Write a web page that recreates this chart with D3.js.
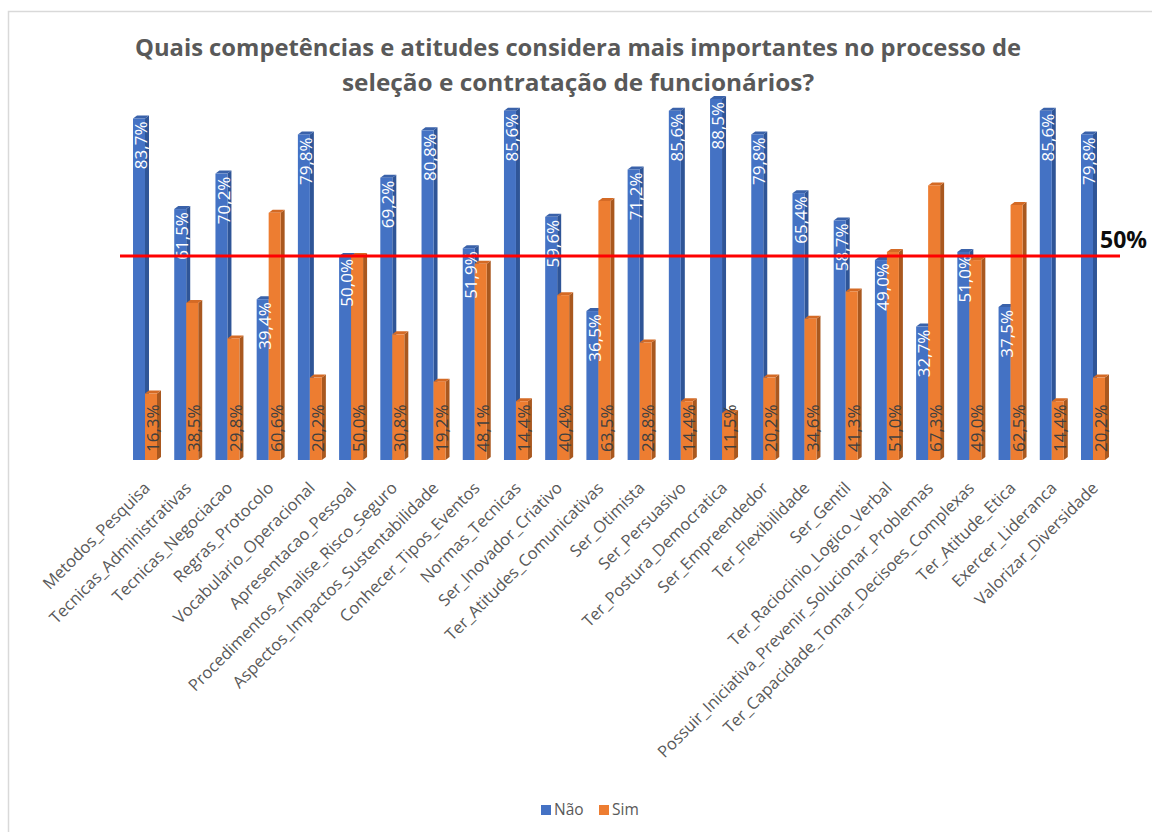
<!DOCTYPE html>
<html>
<head>
<meta charset="utf-8">
<script src="https://cdn.jsdelivr.net/npm/d3@7"></script>
<style>
  body { margin: 0; background: #ffffff; }
  svg { display: block; }
</style>
</head>
<body>
<svg id="chart" width="1152" height="832"></svg>
<script>
// Competências avaliadas
const categories = [
  "Metodos_Pesquisa", "Tecnicas_Administrativas", "Tecnicas_Negociacao", "Regras_Protocolo",
  "Vocabulario_Operacional", "Apresentacao_Pessoal", "Procedimentos_Analise_Risco_Seguro",
  "Aspectos_Impactos_Sustentabilidade", "Conhecer_Tipos_Eventos", "Normas_Tecnicas",
  "Ser_Inovador_Criativo", "Ter_Atitudes_Comunicativas", "Ser_Otimista", "Ser_Persuasivo",
  "Ter_Postura_Democratica", "Ser_Empreendedor", "Ter_Flexibilidade", "Ser_Gentil",
  "Ter_Raciocinio_Logico_Verbal", "Possuir_Iniciativa_Prevenir_Solucionar_Problemas",
  "Ter_Capacidade_Tomar_Decisoes_Complexas", "Ter_Atitude_Etica", "Exercer_Lideranca",
  "Valorizar_Diversidade"
];

// Percentagem de respostas por série
const naoValues = [83.7, 61.5, 70.2, 39.4, 79.8, 50.0, 69.2, 80.8, 51.9, 85.6, 59.6, 36.5,
                   71.2, 85.6, 88.5, 79.8, 65.4, 58.7, 49.0, 32.7, 51.0, 37.5, 85.6, 79.8];
const simValues = [16.3, 38.5, 29.8, 60.6, 20.2, 50.0, 30.8, 19.2, 48.1, 14.4, 40.4, 63.5,
                   28.8, 14.4, 11.5, 20.2, 34.6, 41.3, 51.0, 67.3, 49.0, 62.5, 14.4, 20.2];

const seriesNames = ["Não", "Sim"];
const referenceLevel = 50;
const referenceLabel = "50%";
const titleLines = [
  "Quais competências e atitudes considera mais importantes no processo de",
  "seleção e contratação de funcionários?"
];

const colors = {
  "Não": { front: "#4472C4", side: "#2F5597", top: "#3A62AA" },
  "Sim": { front: "#ED7D31", side: "#A9581F", top: "#D46A25" }
};

const svg = d3.select("#chart");
const baseY = 460;
const depthX = 4, depthY = 3;
const fmt = v => d3.format(".1f")(v).replace(".", ",") + "%";

// chart frame
svg.append("path")
  .attr("d", "M8.5,840 L8.5,11.5 L1160,11.5")
  .attr("fill", "none")
  .attr("stroke", "#d9d9d9")
  .attr("stroke-width", 1.5);

// title
svg.append("g").selectAll("text")
  .data(titleLines)
  .join("text")
  .attr("x", 578)
  .attr("y", (d, i) => 56 + i * 35)
  .attr("text-anchor", "middle")
  .attr("font-family", "'Open Sans', sans-serif")
  .attr("font-weight", 700)
  .attr("font-size", 23.5)
  .attr("fill", "#595959")
  .attr("textLength", (d, i) => i === 0 ? 886 : 472)
  .attr("lengthAdjust", "spacingAndGlyphs")
  .text(d => d);

const y = d3.scaleLinear().domain([0, 100]).range([baseY, 52]);
const x = d3.scaleBand()
  .domain(categories)
  .range([124.4, 1113.6])
  .paddingInner(0.418)
  .paddingOuter(0.209);
const xs = d3.scaleBand().domain(seriesNames).range([0, x.bandwidth()]);

const rows = categories.map((c, i) => ({
  cat: c,
  values: [
    { s: "Não", v: naoValues[i] },
    { s: "Sim", v: simValues[i] }
  ]
}));

const groups = svg.append("g").selectAll("g")
  .data(rows)
  .join("g")
  .attr("transform", d => `translate(${x(d.cat)},0)`);

const bars = groups.selectAll("g.bar")
  .data(d => d.values)
  .join("g")
  .attr("class", "bar");

bars.each(function(d) {
  const g = d3.select(this);
  const x0 = xs(d.s), w = xs.bandwidth(), x1 = x0 + w;
  const yt = y(d.v);
  const c = colors[d.s];
  g.append("polygon")
    .attr("points", [[x1, yt], [x1 + depthX, yt - depthY], [x1 + depthX, baseY - depthY], [x1, baseY]].join(" "))
    .attr("fill", c.side);
  g.append("polygon")
    .attr("points", [[x0, yt], [x0 + depthX, yt - depthY], [x1 + depthX, yt - depthY], [x1, yt]].join(" "))
    .attr("fill", c.top);
  g.append("rect")
    .attr("x", x0).attr("y", yt)
    .attr("width", w).attr("height", baseY - yt)
    .attr("fill", c.front);
});

// value labels
const labelFont = "'Open Sans', sans-serif";
groups.selectAll("text.val")
  .data(d => d.values)
  .join("text")
  .attr("class", "val")
  .attr("transform", d => {
    const cx = xs(d.s) + (xs.bandwidth() + depthX) / 2;
    const yy = d.s === "Não" ? y(d.v) + 3 : baseY - 8;
    return `translate(${cx},${yy}) rotate(-90)`;
  })
  .attr("dy", "0.36em")
  .attr("text-anchor", d => d.s === "Não" ? "end" : "start")
  .attr("font-family", labelFont)
  .attr("font-size", 17)
  .attr("fill", d => d.s === "Não" ? "#ffffff" : "#404040")
  .text(d => fmt(d.v));

// 50% reference line
svg.append("line")
  .attr("x1", 120).attr("x2", 1120)
  .attr("y1", y(referenceLevel)).attr("y2", y(referenceLevel))
  .attr("stroke", "#ff0000")
  .attr("stroke-width", 3);
svg.append("text")
  .attr("x", 1100).attr("y", 248)
  .attr("font-family", "'Open Sans', sans-serif")
  .attr("font-weight", 700)
  .attr("font-size", 23)
  .attr("fill", "#0d0d0d")
  .text(referenceLabel);

// category axis
const axis = svg.append("g")
  .attr("transform", `translate(0,${baseY})`)
  .call(d3.axisBottom(x).tickSize(0).tickPadding(0));
axis.select(".domain").remove();
axis.selectAll(".tick text")
  .attr("x", 0).attr("y", 0).attr("dy", "0.35em")
  .attr("transform", "translate(2,25) rotate(-45)")
  .attr("text-anchor", "end")
  .attr("font-family", "'Open Sans', sans-serif")
  .attr("font-size", 16.5)
  .attr("fill", "#595959");

// legend
const legend = svg.append("g").attr("transform", "translate(541,805)");
const lx = [0, 58];
const items = legend.selectAll("g")
  .data(seriesNames)
  .join("g")
  .attr("transform", (d, i) => `translate(${lx[i]},0)`);
items.append("rect")
  .attr("width", 10).attr("height", 10)
  .attr("fill", d => colors[d].front);
items.append("text")
  .attr("x", 13).attr("y", 10)
  .attr("font-family", "'Open Sans', sans-serif")
  .attr("font-size", 15.5)
  .attr("fill", "#595959")
  .text(d => d);
</script>
</body>
</html>
